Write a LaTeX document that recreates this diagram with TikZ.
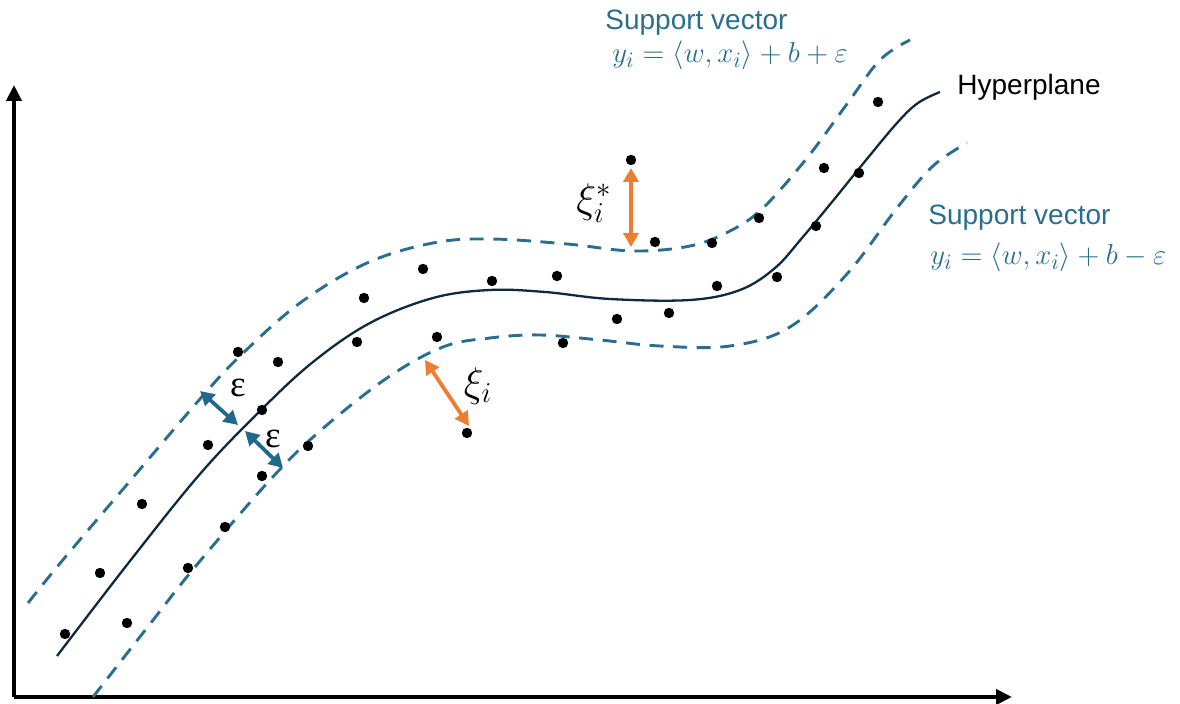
\documentclass[tikz,border=0pt]{standalone}
\usepackage{fontspec}
\setsansfont{Liberation Sans}
\newfontfamily\greekserif{Liberation Serif}
\usetikzlibrary{arrows.meta}
\definecolor{svblue}{HTML}{2A6E8E}
\definecolor{epsblue}{HTML}{1F6A8A}
\definecolor{slack}{HTML}{ED7D31}
\definecolor{hyper}{HTML}{0F2A3C}
\begin{document}
\begin{tikzpicture}[x=0.5pt,y=-0.5pt,
  axis/.style={line width=2pt, -{Triangle[length=8pt,width=7.5pt]}},
  margin/.style={svblue, line width=1.45pt, dash pattern=on 7pt off 4.8pt},
  hyperline/.style={hyper, line width=1.15pt},
  sample/.style={fill=black},
  epsarrow/.style={epsblue, line width=1.9pt,
    {Triangle[length=7pt,width=7.5pt]}-{Triangle[length=7pt,width=7.5pt]}},
  slackarrow/.style={slack, line width=1.9pt,
    {Triangle[length=7pt,width=7.5pt]}-{Triangle[length=7pt,width=7.5pt]}},
  caption/.style={font=\sffamily\fontsize{14}{16}\selectfont, anchor=base west, inner sep=0pt},
  svtext/.style={caption, text=svblue},
  eqtext/.style={text=svblue, anchor=base west, inner sep=0pt, font=\fontsize{15.5}{18}\selectfont},
  epslabel/.style={font=\greekserif\fontsize{18.5}{20}\selectfont, inner sep=0pt},
  xilabel/.style={font=\fontsize{20}{24}\selectfont, inner sep=0pt},
]
\useasboundingbox (0,0) rectangle (1180,704);

% axes
\coordinate (O) at (14,697);
\coordinate (ytip) at (14,85);
\coordinate (xtip) at (1012,697);
\draw[axis] (O) -- (ytip);
\draw[axis] (O) -- (xtip);

% upper margin  y = <w,x> + b + eps
\draw[margin] plot[smooth, tension=0.6] coordinates {
  (28,603) (62,561) (130,481) (200,399) (240,356) (300,303) (367,263)
  (433,243) (490,239) (567,244) (633,251) (690,246) (730,231) (763,208)
  (807,158) (847,104) (880,60) (910,40)};

% hyperplane
\draw[hyperline] plot[smooth, tension=0.6] coordinates {
  (57,656) (130,561) (200,474) (260,411) (313,362) (370,323) (433,298)
  (490,290) (545,292) (610,299) (690,300) (740,290) (775,268) (802,238)
  (832,202) (862,165) (897,123) (918,103) (940,92)};

% lower margin  y = <w,x> + b - eps
\draw[margin] plot[smooth, tension=0.6] coordinates {
  (93,697) (150,624) (195,567) (270,480) (320,431) (387,378) (443,347)
  (490,338) (540,335) (600,340) (660,346) (730,346) (790,327)
  (847,274) (897,208) (933,166) (967,143)};

% samples
\foreach \px/\py in {65/634, 100/573, 127/623, 142/504, 188/568, 208/445,
  225/527, 238/352, 262/410, 262/476, 278/362, 308/446, 357/342, 364/298,
  423/269, 437/337, 467/433, 492/281, 557/276, 563/343, 617/319, 631/160,
  655/242, 669/313, 712/243, 717/286, 759/218, 777/277, 816/226, 824/168,
  859/173, 878/102}
  \fill[sample] (\px,\py) circle[radius=2.6pt];

% epsilon tube width
\coordinate (e1a) at (200,391);
\coordinate (e1b) at (238,425);
\coordinate (e2a) at (245,431);
\coordinate (e2b) at (283,468);
\draw[epsarrow] (e1a) -- (e1b);
\draw[epsarrow] (e2a) -- (e2b);
\node[epslabel] (eps1) at (238,388) {ε};
\node[epslabel] (eps2) at (273,439) {ε};

% slack variables
\coordinate (s1a) at (631,168);
\coordinate (s1b) at (631,247);
\coordinate (s2a) at (425,360);
\coordinate (s2b) at (469,426);
\draw[slackarrow] (s1a) -- (s1b);
\draw[slackarrow] (s2a) -- (s2b);
\node[xilabel] (xistar) at (594,203) {$\xi_i^*$};
\node[xilabel] (xi) at (478,386) {$\xi_i$};

% captions
\node[svtext] (sv1) at (605,30) {Support vector};
\node[eqtext] (eq1) at (612,63) {$y_i = \langle w, x_i\rangle + b + \varepsilon$};
\node[caption] (hp) at (957,95) {Hyperplane};
\node[svtext] (sv2) at (928,225) {Support vector};
\node[eqtext] (eq2) at (930,265) {$y_i = \langle w, x_i\rangle + b - \varepsilon$};
\end{tikzpicture}
\end{document}
